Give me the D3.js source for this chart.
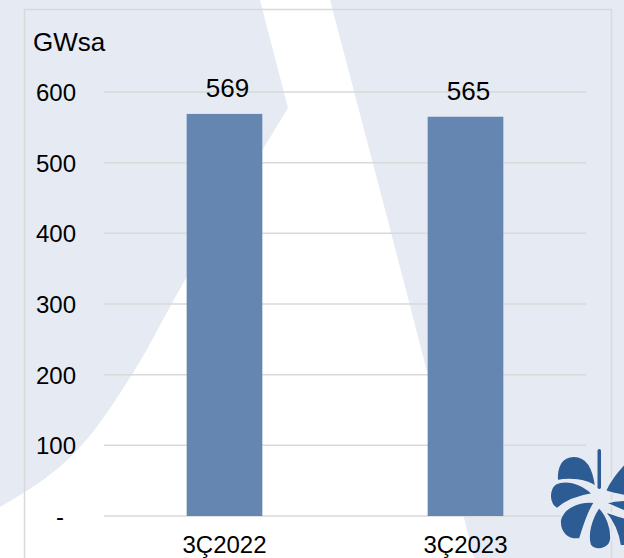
<!DOCTYPE html>
<html>
<head>
<meta charset="utf-8">
<script src="https://cdn.jsdelivr.net/npm/d3@7"></script>
<style>
  html, body { margin: 0; padding: 0; background: #e6ebf3; }
  svg { display: block; font-family: "Liberation Sans", Arial, sans-serif; }
</style>
</head>
<body>
<svg id="chart" width="624" height="558"></svg>
<script>
// ---- data ----
const categories = ["3Ç2022", "3Ç2023"];
const values = [569, 565];
const yTicks = [0, 100, 200, 300, 400, 500, 600];
const unitLabel = "GWsa";

// ---- layout ----
const W = 624, H = 558;
const plot = { left: 104, right: 586, top: 92, bottom: 516 };

const svg = d3.select("#chart");

// background
svg.append("rect").attr("width", W).attr("height", H).attr("fill", "#e6ebf3");

// white decorative shape
const leftEdge = d3.line().curve(d3.curveCatmullRom)([
  [288, 108], [185, 280], [133, 373], [82, 445], [43, 480], [0, 507]
]);
const shape = d3.path();
shape.moveTo(260, 0);
shape.lineTo(330, 0);
shape.bezierCurveTo(380, 190, 430, 380, 474, 558);
shape.lineTo(0, 558);
shape.lineTo(0, 507);
shape.closePath();
svg.append("path")
  .attr("d", "M260,0 L288,108 " + leftEdge.slice(1).replace(/^[\d.,]+/, m => "L" + m) + " L0,558 L474,558 C430,380 380,190 330,0 Z")
  .attr("fill", "#ffffff");

// border frame
svg.append("rect")
  .attr("x", 24.5).attr("y", 9.5)
  .attr("width", 587).attr("height", 600)
  .attr("fill", "none").attr("stroke", "#d9d9d9").attr("stroke-width", 1.5);

// scales
const x = d3.scaleBand()
  .domain(categories)
  .range([plot.left, plot.right])
  .paddingInner(0.686)
  .paddingOuter(0.343);

const y = d3.scaleLinear().domain([0, 600]).range([plot.bottom, plot.top]);

// gridlines
svg.append("g")
  .selectAll("line")
  .data(yTicks)
  .join("line")
  .attr("x1", plot.left).attr("x2", plot.right)
  .attr("y1", d => y(d)).attr("y2", d => y(d))
  .attr("stroke", "#d9d9d9").attr("stroke-width", 1.5);

// y axis labels
const yAxis = d3.axisLeft(y)
  .tickValues(yTicks)
  .tickSize(0)
  .tickPadding(0)
  .tickFormat(d => d === 0 ? "-" : d3.format("d")(d));
const yg = svg.append("g").attr("transform", "translate(76,0)").call(yAxis);
yg.select(".domain").remove();
yg.selectAll("text")
  .attr("font-size", 24)
  .attr("font-family", "Liberation Sans, Arial, sans-serif")
  .attr("fill", "#000")
  .attr("dy", "0.35em")
  .attr("dx", d => d === 0 ? -12 : 0);

// bars
svg.append("g")
  .selectAll("rect")
  .data(values)
  .join("rect")
  .attr("x", (d, i) => x(categories[i]))
  .attr("width", x.bandwidth())
  .attr("y", d => y(d))
  .attr("height", d => y(0) - y(d))
  .attr("fill", "#6586b1");

// value labels
svg.append("g")
  .selectAll("text")
  .data(values)
  .join("text")
  .attr("x", (d, i) => x(categories[i]) + x.bandwidth() / 2 + 3)
  .attr("y", d => y(d) - 17)
  .attr("text-anchor", "middle")
  .attr("font-size", 26)
  .attr("fill", "#000")
  .text(d => d);

// x axis labels
const xAxis = d3.axisBottom(x).tickSize(0).tickPadding(0);
const xg = svg.append("g").attr("transform", `translate(0,${plot.bottom})`).call(xAxis);
xg.select(".domain").remove();
xg.selectAll("text")
  .attr("font-size", 24)
  .attr("font-family", "Liberation Sans, Arial, sans-serif")
  .attr("fill", "#000")
  .attr("dy", null)
  .attr("y", 37);

// unit label
svg.append("text")
  .attr("x", 33).attr("y", 50.5)
  .attr("font-size", 26)
  .attr("fill", "#000")
  .text(unitLabel);

// logo (decorative)
const logo = svg.append("g").attr("fill", "#2d5b94");
logo.append("rect").attr("x", 597.5).attr("y", 449).attr("width", 3.5).attr("height", 40).attr("rx", 1.7);
const petals = [
  "M596,487 C594,470 588,456 574,456 C561,456 556,467 557,481 C570,478 586,480 596,487 Z",
  "M593,494 C580,481 564,479 555,484 C548,490 548,504 557,509 C567,500 580,496 593,494 Z",
  "M595,502 C578,500 563,508 560,520 C559,533 568,541 580,539 C584,526 588,512 595,502 Z",
  "M599,507 C590,520 587,535 590,545 C595,552 609,550 611,540 C612,528 607,515 599,507 Z",
  "M605,491 C610,480 618,470 626,462 L626,496 C619,495 612,494 605,491 Z",
  "M605,503 C612,506 619,509 626,512 L626,500 C619,500 612,501 605,503 Z",
  "M604,511 C612,520 618,532 620,546 L626,546 L626,518 C618,516 610,513 604,511 Z"
];
logo.selectAll("path.petal").data(petals).join("path")
  .attr("class", "petal").attr("d", d => d)
  .attr("stroke", "#e6ebf3").attr("stroke-width", 2);
</script>
</body>
</html>
